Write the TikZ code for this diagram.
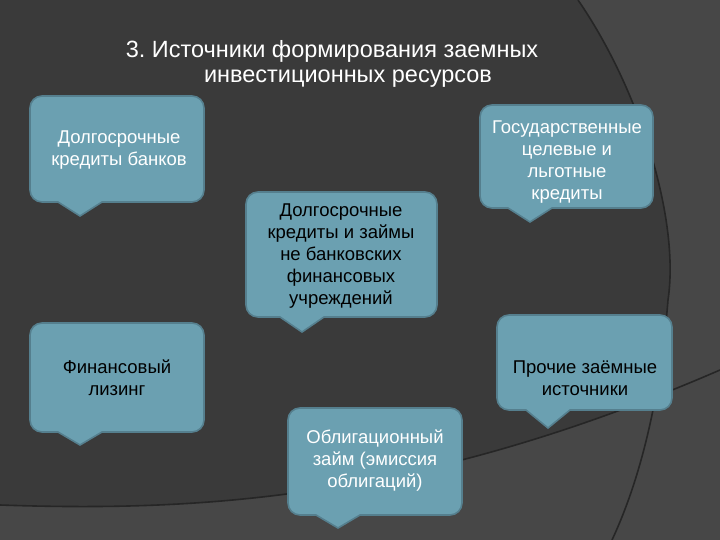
\documentclass[tikz,border=0pt]{standalone}
\usepackage{fontspec}
\setmainfont{Liberation Sans}
\begin{document}
\begin{tikzpicture}[x=1pt,y=-1pt,
  bub/.style={fill=bubfill,draw=bubedge,line width=1.6pt},
  btext/.style={align=center,font=\fontsize{18.5}{22}\selectfont,inner sep=0pt},
  arcline/.style={draw=black!85,line width=1.6pt}]
\definecolor{bgc}{HTML}{3A3A3A}
\definecolor{bglight}{HTML}{474747}
\definecolor{bubfill}{HTML}{6BA0B1}
\definecolor{bubedge}{HTML}{557F8E}
\useasboundingbox (0,0) rectangle (720,540);
\fill[bgc] (0,0) rectangle (720,540);
% lighter regions
\fill[bglight] (578,0) .. controls (640,90) and (680,220) .. (668,300) .. controls (660,400) and (640,480) .. (612,540) -- (720,540) -- (720,0) -- cycle;
\fill[bglight] (0,505) .. controls (200,512) and (420,500) .. (720,370) -- (720,540) -- (0,540) -- cycle;
\draw[arcline] (578,0) .. controls (640,90) and (680,220) .. (668,300) .. controls (660,400) and (640,480) .. (612,540);
\draw[arcline] (0,505) .. controls (200,512) and (420,500) .. (720,370);
% title
\node[text=white,font=\fontsize{23.5}{28}\selectfont] (t1) at (332,51) {3.~Источники формирования заемных};
\node[text=white,font=\fontsize{23.5}{28}\selectfont] (t2) at (348,79) {инвестиционных ресурсов};
% bubbles
\newcommand{\mybub}[7]{%
  \draw[bub] (#5-22,#4) [rounded corners=12pt] -- (#1,#4) -- (#1,#2) -- (#3,#2) -- (#3,#4) [sharp corners] -- (#5+22,#4) -- (#5,#6) -- cycle;}
\mybub{30}{96}{204}{202}{80}{216}{}
\node[btext,text=white] (b1) at (119,150) {Долгосрочные\\кредиты банков};
\mybub{246}{192}{437}{317}{302}{332}{}
\node[btext,text=black] (b2) at (341,256) {Долгосрочные\\кредиты и займы\\не банковских\\финансовых\\учреждений};
\mybub{480}{105}{653}{208}{530}{222}{}
\node[btext,text=white] (b3) at (567,162) {Государственные\\целевые и\\льготные\\кредиты};
\mybub{30}{323}{204}{432}{80}{445}{}
\node[btext,text=black] (b4) at (117,378) {Финансовый\\лизинг};
\mybub{497}{315}{672}{410}{548}{428}{}
\node[btext,text=black] (b5) at (585,378) {Прочие заёмные\\источники};
\mybub{288}{408}{462}{515}{338}{528}{}
\node[btext,text=white] (b6) at (375,461) {Облигационный\\займ (эмиссия\\облигаций)};
\end{tikzpicture}
\end{document}
